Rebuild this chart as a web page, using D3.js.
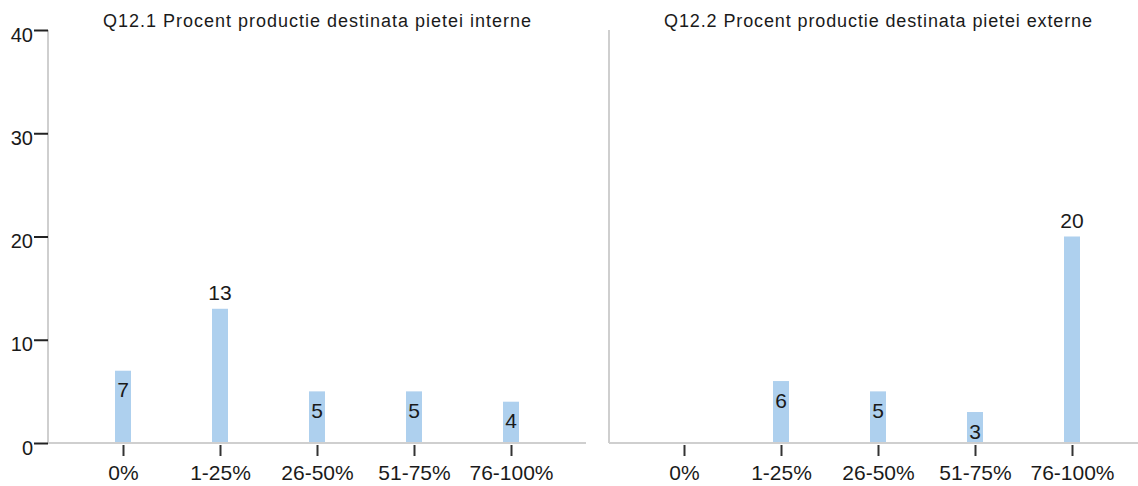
<!DOCTYPE html>
<html>
<head>
<meta charset="utf-8">
<script src="https://cdn.jsdelivr.net/npm/d3@7"></script>
<style>
  html, body { margin: 0; padding: 0; background: #ffffff; }
  svg { display: block; font-family: "Liberation Sans", Arial, sans-serif; }
</style>
</head>
<body>
<svg id="chart" width="1138" height="486"></svg>
<script>
// ---- data ----
const categories = ["0%", "1-25%", "26-50%", "51-75%", "76-100%"];
const panelTitles = [
  "Q12.1 Procent productie destinata pietei interne",
  "Q12.2 Procent productie destinata pietei externe"
];
const internValues = [7, 13, 5, 5, 4];
const externValues = [0, 6, 5, 3, 20];
const yTicks = [0, 10, 20, 30, 40];

const svg = d3.select("#chart");
const panels = [
  { title: panelTitles[0], values: internValues, x0: 48, showY: true },
  { title: panelTitles[1], values: externValues, x0: 609, showY: false }
];

const panelW = 538;
const y = d3.scaleLinear().domain([0, 40]).range([443, 30]);
const barW = 16;
const barColor = "#aed0ee";
const axisGray = "#cfcfcf";
const textColor = "#1a1a1a";

panels.forEach(p => {
  const g = svg.append("g").attr("transform", `translate(${p.x0},0)`);
  const x = d3.scalePoint().domain(categories).range([0, panelW]).padding(0.7732);

  // title
  g.append("text")
    .attr("x", panelW / 2)
    .attr("y", 27)
    .attr("text-anchor", "middle")
    .attr("font-size", 18)
    .attr("textLength", 428)
    .attr("lengthAdjust", "spacing")
    .attr("fill", textColor)
    .text(p.title);

  // bars
  g.selectAll("rect.bar").data(p.values).join("rect")
    .attr("class", "bar")
    .attr("x", (d, i) => x(categories[i]) - barW / 2)
    .attr("width", barW)
    .attr("y", d => y(d))
    .attr("height", d => y(0) - y(d))
    .attr("fill", barColor);

  // y axis line
  g.append("line")
    .attr("x1", 0).attr("x2", 0)
    .attr("y1", y(40)).attr("y2", y(0))
    .attr("stroke", axisGray).attr("stroke-width", 2);

  // x axis line
  g.append("line")
    .attr("x1", 0).attr("x2", panelW)
    .attr("y1", y(0)).attr("y2", y(0))
    .attr("stroke", axisGray).attr("stroke-width", 2);

  // x axis ticks & labels
  const xAxis = d3.axisBottom(x).tickSize(11).tickPadding(9);
  const xg = g.append("g").attr("transform", `translate(0,${y(0) + 2})`).call(xAxis);
  xg.select(".domain").remove();
  xg.selectAll(".tick line").attr("stroke", "#333").attr("stroke-width", 2);
  xg.selectAll(".tick text")
    .attr("font-size", 21)
    .attr("font-family", "Liberation Sans, Arial, sans-serif")
    .attr("fill", textColor);

  // y axis ticks
  if (p.showY) {
    const yAxis = d3.axisLeft(y).tickValues(yTicks).tickSize(14).tickPadding(1).tickFormat(d3.format("d"));
    const yg = g.append("g").call(yAxis);
    yg.select(".domain").remove();
    yg.selectAll(".tick line").attr("stroke", "#222").attr("stroke-width", 2);
    yg.selectAll(".tick text")
      .attr("font-size", 20)
      .attr("font-family", "Liberation Sans, Arial, sans-serif")
      .attr("dy", "0.55em")
      .attr("fill", textColor);
  }

  // value labels
  g.selectAll("text.val").data(p.values.map((v, i) => ({ v, c: categories[i] })).filter(d => d.v > 0))
    .join("text")
    .attr("class", "val")
    .attr("x", d => x(d.c))
    .attr("y", d => d.v >= 10 ? y(d.v) - 9 : y(d.v) + 26.5)
    .attr("text-anchor", "middle")
    .attr("font-size", 21)
    .attr("fill", textColor)
    .text(d => d.v);
});
</script>
</body>
</html>
